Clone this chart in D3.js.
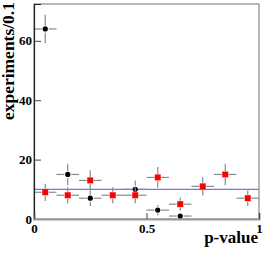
<!DOCTYPE html>
<html>
<head>
<meta charset="utf-8">
<script src="https://cdn.jsdelivr.net/npm/d3@7"></script>
<style>
  body { margin: 0; background: #fff; }
  text { font-family: "Liberation Serif", "DejaVu Serif", serif; font-weight: bold; fill: #000; }
</style>
</head>
<body>
<div id="chart"></div>
<script>
// bin centres of the p-value histogram
var binCenters = [0.05, 0.15, 0.25, 0.35, 0.45, 0.55, 0.65, 0.75, 0.85, 0.95];
var binHalfWidth = 0.05;

// black circles (empty bins not drawn)
var blackX = [0.05, 0.15, 0.25, 0.45, 0.55, 0.65];
var blackY = [64, 15, 7, 10, 3, 1];
var blackErr = [4.8, 3.6, 2.6, 3.0, 1.7, 1.0];

// red squares
var redY = [9, 8, 13, 8, 8, 14, 5, 11, 15, 7];
var redErr = [2.9, 2.7, 3.4, 2.7, 2.7, 3.5, 2.2, 3.1, 3.6, 2.6];

var expected = 10;
var yTicks = [0, 20, 40, 60];
var xTicks = [0, 0.5, 1];

var W = 266, H = 253;
var margin = {top: 4, right: 7, bottom: 34, left: 34};

var svg = d3.select("#chart").append("svg")
    .attr("width", W)
    .attr("height", H);

var x = d3.scaleLinear().domain([0, 1]).range([margin.left, W - margin.right]);
var y = d3.scaleLinear().domain([0, 72.4]).range([H - margin.bottom, margin.top]);

// frame
svg.append("rect")
    .attr("x", x(0)).attr("y", y(72.4))
    .attr("width", x(1) - x(0)).attr("height", y(0) - y(72.4))
    .attr("fill", "none").attr("stroke", "#888").attr("stroke-width", 1.2);

// expected level
svg.append("line")
    .attr("x1", x(0)).attr("x2", x(1))
    .attr("y1", y(expected)).attr("y2", y(expected))
    .attr("stroke", "#7272ff").attr("stroke-width", 1.2);

var errColor = "#8a8a8a";
var gap = 3.5;

function drawPoints(xs, ys, es, kind) {
  var g = svg.append("g");
  xs.forEach(function(cx, i) {
    var px = x(cx), py = y(ys[i]);
    var xl = x(cx - binHalfWidth), xr = x(cx + binHalfWidth);
    var yt = y(ys[i] + es[i]), yb = y(Math.max(0, ys[i] - es[i]));
    g.append("line").attr("x1", xl).attr("x2", px - gap).attr("y1", py).attr("y2", py)
        .attr("stroke", errColor).attr("stroke-width", 1.2);
    g.append("line").attr("x1", px + gap).attr("x2", xr).attr("y1", py).attr("y2", py)
        .attr("stroke", errColor).attr("stroke-width", 1.2);
    if (py - gap > yt)
      g.append("line").attr("x1", px).attr("x2", px).attr("y1", yt).attr("y2", py - gap)
          .attr("stroke", errColor).attr("stroke-width", 1.2);
    if (yb > py + gap)
      g.append("line").attr("x1", px).attr("x2", px).attr("y1", py + gap).attr("y2", yb)
          .attr("stroke", errColor).attr("stroke-width", 1.2);
    if (kind == "circle") {
      g.append("circle").attr("cx", px).attr("cy", py).attr("r", 2.6).attr("fill", "#000");
    } else {
      g.append("rect").attr("x", px - 3).attr("y", py - 3).attr("width", 6).attr("height", 6)
          .attr("fill", "#ff0000");
    }
  });
}

drawPoints(blackX, blackY, blackErr, "circle");
drawPoints(binCenters, redY, redErr, "square");

// axes
var yAxis = d3.axisLeft(y).tickValues(yTicks).tickSize(-7).tickPadding(2);
var gy = svg.append("g")
    .attr("transform", "translate(" + x(0) + ",0)")
    .call(yAxis);
gy.select(".domain").attr("stroke", "#222").attr("stroke-width", 1.2);
gy.selectAll(".tick line").attr("stroke", "#444");
gy.selectAll(".tick text").attr("font-size", "13px")
    .style("font-family", "'Liberation Serif', serif").style("font-weight", "bold");

var xAxis = d3.axisBottom(x).tickValues(xTicks).tickSize(-6).tickPadding(5)
    .tickFormat(function(d) { return d3.format("")(d); });
var gx = svg.append("g")
    .attr("transform", "translate(0," + y(0) + ")")
    .call(xAxis);
gx.select(".domain").attr("stroke", "#999").attr("stroke-width", 2.2);
gx.selectAll(".tick line").attr("stroke", "#444");
gx.selectAll(".tick text").attr("font-size", "13px")
    .style("font-family", "'Liberation Serif', serif").style("font-weight", "bold");

// axis titles
svg.append("text")
    .attr("x", W - 8).attr("y", 243)
    .attr("text-anchor", "end")
    .attr("font-size", "17px")
    .text("p-value");

svg.append("text")
    .attr("transform", "translate(14,2) rotate(-90)")
    .attr("text-anchor", "end")
    .attr("font-size", "17.5px")
    .text("experiments/0.1");
</script>
</body>
</html>
